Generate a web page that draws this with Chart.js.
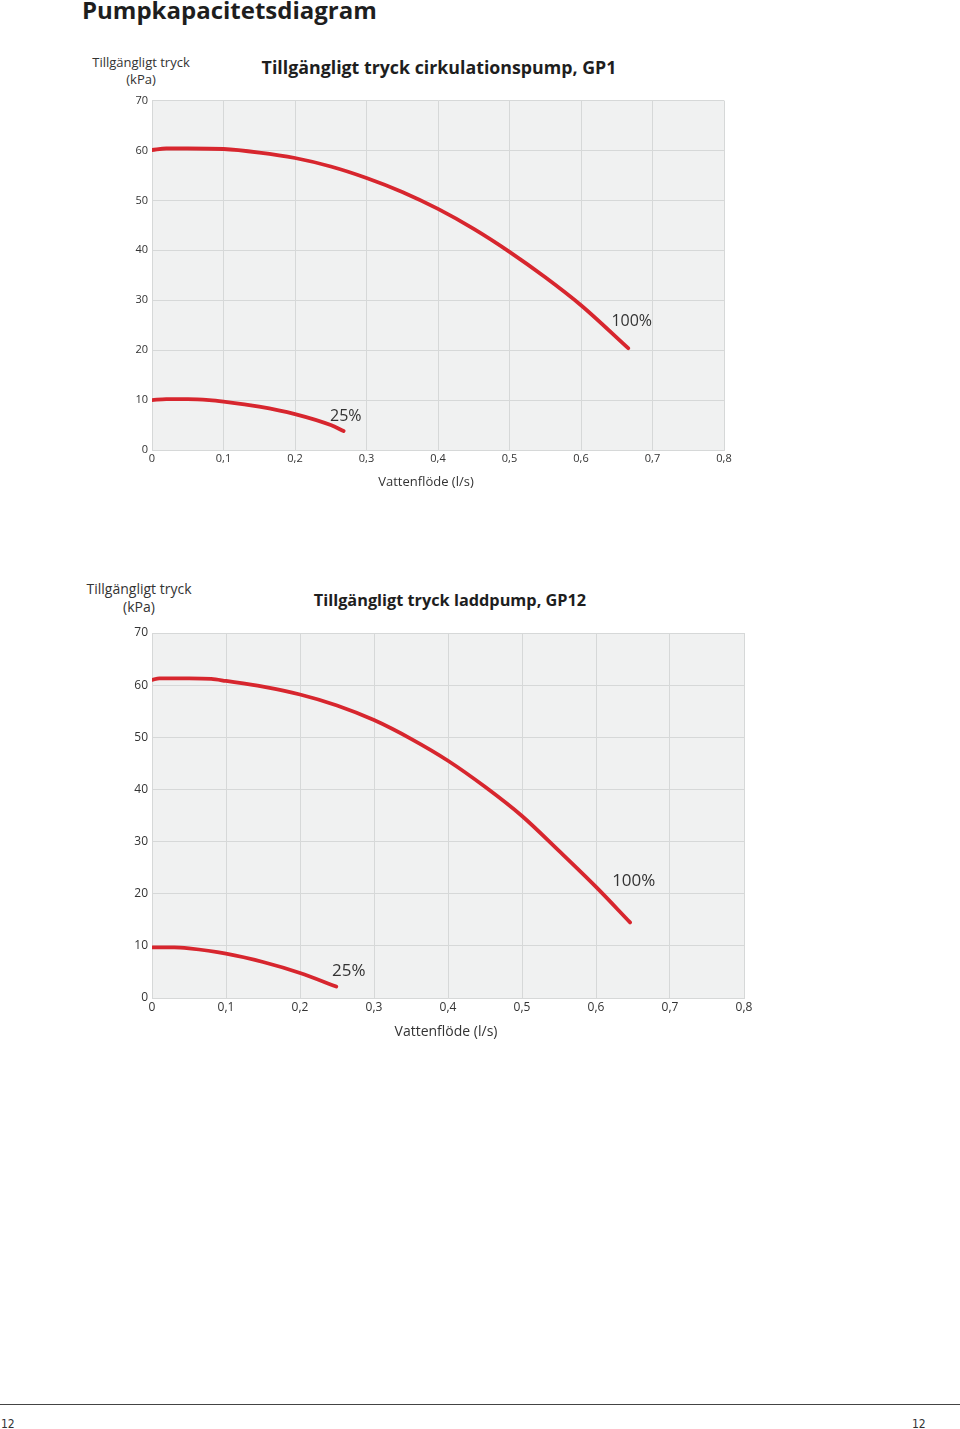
<!DOCTYPE html>
<html>
<head>
<meta charset="utf-8">
<script src="https://cdn.jsdelivr.net/npm/chart.js@4.4.1/dist/chart.umd.min.js"></script>
<style>
  html, body { margin: 0; padding: 0; background: #fff; }
  body { width: 960px; height: 1429px; position: relative; overflow: hidden; font-family: "Open Sans", sans-serif; color: #222; }
  .abs { position: absolute; white-space: nowrap; }
  canvas { position: absolute; }
</style>
</head>
<body>
<div class="abs" id="pageTitle" style="left:82px; top:-7px; font-size:24px; font-weight:bold; color:#1e1e1e;">Pumpkapacitetsdiagram</div>

<div class="abs" style="left:81px; top:54px; width:120px; text-align:center; font-size:13px; line-height:17px; color:#333;">Tillgängligt tryck<br>(kPa)</div>
<div class="abs" style="left:239px; top:55px; width:400px; text-align:center; font-size:17.8px; font-weight:bold; color:#1e1e1e;">Tillgängligt tryck cirkulationspump, GP1</div>
<canvas id="c1" width="760" height="410" style="left:0; top:90px;"></canvas>
<div class="abs" style="left:326px; top:472px; width:200px; text-align:center; font-size:13px; color:#333;">Vattenflöde (l/s)</div>

<div class="abs" style="left:74px; top:580px; width:130px; text-align:center; font-size:14px; line-height:18px; color:#333;">Tillgängligt tryck<br>(kPa)</div>
<div class="abs" style="left:250px; top:589px; width:400px; text-align:center; font-size:16.3px; font-weight:bold; color:#1e1e1e;">Tillgängligt tryck laddpump, GP12</div>
<canvas id="c2" width="780" height="430" style="left:0; top:620px;"></canvas>
<div class="abs" style="left:346px; top:1021px; width:200px; text-align:center; font-size:14px; color:#333;">Vattenflöde (l/s)</div>

<div class="abs" style="left:0; top:1404px; width:960px; height:1px; background:#444;"></div>
<div class="abs" style="left:1px; top:1417px; font-size:12px; color:#333; font-family:'Liberation Sans Narrow','DejaVu Sans Condensed',sans-serif;">12</div>
<div class="abs" style="left:912px; top:1417px; font-size:12px; color:#333; font-family:'Liberation Sans Narrow','DejaVu Sans Condensed',sans-serif;">12</div>

<script>
// ---- Data ----
const xTicks = [0, 0.1, 0.2, 0.3, 0.4, 0.5, 0.6, 0.7, 0.8];
const yTicks = [0, 10, 20, 30, 40, 50, 60, 70];

// Chart 1: cirkulationspump GP1
const gp1FlowFull = [0, 0.02, 0.05, 0.1, 0.15, 0.2, 0.25, 0.3, 0.35, 0.4, 0.45, 0.5, 0.55, 0.6, 0.666];
const gp1PressFull = [60.1, 60.4, 60.4, 60.3, 59.6, 58.5, 56.8, 54.5, 51.7, 48.3, 44.3, 39.7, 34.6, 29.0, 20.4];
const gp1FlowLow = [0, 0.02, 0.05, 0.08, 0.1, 0.15, 0.2, 0.25, 0.268];
const gp1PressLow = [10.0, 10.2, 10.2, 10.0, 9.7, 8.7, 7.2, 5.0, 3.8];
const gp1LabelText = ['100%', '25%'];
const gp1LabelX = [0.671, 0.271];
const gp1LabelY = [25.8, 6.7];

// Chart 2: laddpump GP12
const gp12FlowFull = [0, 0.01, 0.05, 0.08, 0.1, 0.15, 0.2, 0.25, 0.3, 0.35, 0.4, 0.45, 0.5, 0.55, 0.6, 0.646];
const gp12PressFull = [61.0, 61.3, 61.3, 61.2, 60.8, 59.7, 58.2, 56.1, 53.3, 49.7, 45.5, 40.5, 34.9, 28.2, 21.3, 14.5];
const gp12FlowLow = [0, 0.03, 0.05, 0.1, 0.15, 0.2, 0.249];
const gp12PressLow = [9.7, 9.7, 9.5, 8.5, 6.9, 4.8, 2.2];
const gp12LabelText = ['100%', '25%'];
const gp12LabelX = [0.651, 0.266];
const gp12LabelY = [22.5, 5.2];

const RED = '#d7262e';
const GRID = '#d6d8d8';
const PLOT_BG = '#f0f1f1';
const TEXT = '#333';

function pts(xs, ys) { return xs.map((x, i) => ({ x: x, y: ys[i] })); }
function fmt(v) { return v === 0 ? '0' : Number(v).toFixed(1).replace('.', ','); }

const bgPlugin = {
  id: 'plotBg',
  beforeDraw(chart) {
    const a = chart.chartArea, ctx = chart.ctx;
    ctx.save(); ctx.fillStyle = PLOT_BG;
    ctx.fillRect(a.left, a.top, a.right - a.left, a.bottom - a.top);
    ctx.restore();
  }
};
const labelPlugin = {
  id: 'curveLabels',
  afterDatasetsDraw(chart, args, opts) {
    const ctx = chart.ctx, xs = chart.scales.x, ys = chart.scales.y;
    ctx.save();
    ctx.fillStyle = TEXT; ctx.font = opts.font;
    ctx.textAlign = 'center'; ctx.textBaseline = 'middle';
    opts.text.forEach((t, i) => ctx.fillText(t, xs.getPixelForValue(opts.x[i]), ys.getPixelForValue(opts.y[i])));
    ctx.restore();
  }
};

function makeChart(id, full, low, labels, cfg) {
  const line = { showLine: true, borderColor: RED, borderWidth: 3.8, pointRadius: 0, cubicInterpolationMode: 'monotone', borderCapStyle: 'round', borderJoinStyle: 'round' };
  return new Chart(document.getElementById(id), {
    type: 'scatter',
    data: {
      datasets: [
        Object.assign({ label: '100%', data: full }, line),
        Object.assign({ label: '25%', data: low }, line)
      ]
    },
    options: {
      responsive: false, animation: false, devicePixelRatio: 1,
      layout: { padding: { left: 0, top: cfg.top, right: cfg.right, bottom: cfg.bottom } },
      plugins: {
        legend: { display: false }, tooltip: { enabled: false }, title: { display: false },
        curveLabels: { text: labels.text, x: labels.x, y: labels.y, font: cfg.labelFont }
      },
      scales: {
        x: {
          type: 'linear', min: xTicks[0], max: xTicks[xTicks.length - 1],
          afterBuildTicks: s => { s.ticks = xTicks.map(v => ({ value: v })); },
          afterFit: s => { s.height = cfg.xHeight; },
          grid: { color: GRID, drawTicks: false, lineWidth: 1 },
          border: { color: GRID },
          ticks: { padding: cfg.xPad, color: TEXT, font: { family: 'Open Sans', size: cfg.tickSize }, maxRotation: 0, callback: v => fmt(v) },
          title: { display: false }
        },
        y: {
          type: 'linear', min: yTicks[0], max: yTicks[yTicks.length - 1],
          afterBuildTicks: s => { s.ticks = yTicks.map(v => ({ value: v })); },
          afterFit: s => { s.width = cfg.yWidth; },
          grid: { color: GRID, drawTicks: false, lineWidth: 1 },
          border: { color: GRID },
          ticks: { padding: 4, color: TEXT, font: { family: 'Open Sans', size: cfg.tickSize } }
        }
      }
    },
    plugins: [bgPlugin, labelPlugin]
  });
}

makeChart('c1', pts(gp1FlowFull, gp1PressFull), pts(gp1FlowLow, gp1PressLow),
  { text: gp1LabelText, x: gp1LabelX, y: gp1LabelY },
  { top: 7, right: 36, bottom: 10, xHeight: 40, yWidth: 152, xPad: 2, tickSize: 11, labelFont: '16px "Open Sans"' });

makeChart('c2', pts(gp12FlowFull, gp12PressFull), pts(gp12FlowLow, gp12PressLow),
  { text: gp12LabelText, x: gp12LabelX, y: gp12LabelY },
  { top: 13, right: 36, bottom: 10, xHeight: 42, yWidth: 152, xPad: 2, tickSize: 12, labelFont: '17px "Open Sans"' });
</script>
</body>
</html>
